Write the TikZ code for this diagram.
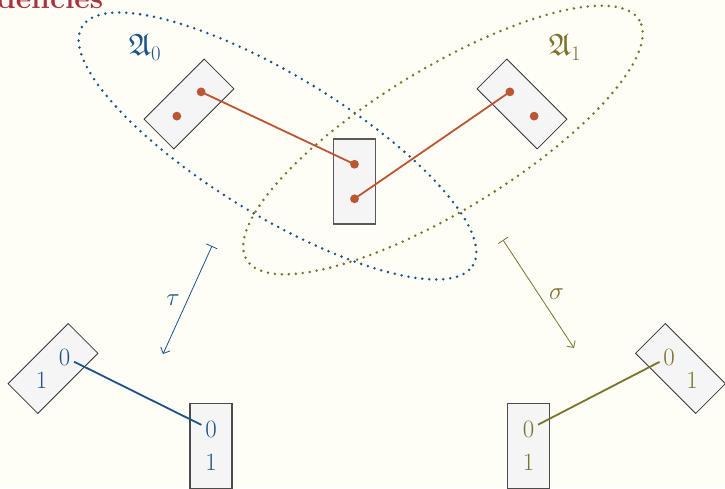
\documentclass[tikz,border=0pt]{standalone}
\usepackage{amssymb}
\usepackage{tikz}
\usetikzlibrary{arrows.meta,calc}
\definecolor{paper}{RGB}{254,254,247}
\definecolor{navy}{RGB}{28,84,138}
\definecolor{olivy}{RGB}{122,116,42}
\definecolor{ember}{RGB}{186,86,50}
\definecolor{titlered}{RGB}{168,50,62}

\begin{document}
\begin{tikzpicture}[x=1pt,y=-1pt,
  cell/.style={draw=black!80,fill=black!4,line width=0.8pt,minimum width=42pt,minimum height=85pt,inner sep=0pt},
  digit/.style={circle,inner sep=0pt,minimum size=21pt,font=\fontsize{25}{28}\selectfont},
  region/.style={line width=2.8pt,line cap=round,dash pattern=on 0pt off 7pt},
  tie/.style={line width=1.8pt},
  maps/.style={line width=0.8pt,{Bar[width=12pt]}-{Straight Barb[length=5pt,width=10pt]}},
  lbl/.style={font=\fontsize{31}{34}\selectfont}]
\useasboundingbox (0,0) rectangle (725,488);
\fill[paper] (0,0) rectangle (725,488);
\node[anchor=base west,text=titlered,font=\fontsize{30}{34}\selectfont\bfseries,inner sep=0pt] (title) at (-3,8.5) {deficles};
% the two regions
\draw[region,navy,rotate around={-31.4:(277.5,146)}] (277.5,146) ellipse [x radius=229pt,y radius=70pt];
\draw[region,olivy,rotate around={31.4:(443,140)}] (443,140) ellipse [x radius=230pt,y radius=71pt];
\node[lbl,text=navy] (A0) at (145,47) {$\mathfrak{A}_0$};
\node[lbl,text=olivy] (A1) at (565,47) {$\mathfrak{A}_1$};
% top row
\node[cell,rotate=-45] (p) at (189,104) {};
\node[cell,draw=black!65,line width=1.3pt] (m) at (354.5,181.5) {};
\node[cell,rotate=45] (q) at (522,104) {};
\coordinate (p0) at ($(p.center)!.4!(p.north)$);
\coordinate (p1) at ($(p.center)!.4!(p.south)$);
\coordinate (m0) at ($(m.center)!.4!(m.north)$);
\coordinate (m1) at ($(m.center)!.4!(m.south)$);
\coordinate (q0) at ($(q.center)!.4!(q.north)$);
\coordinate (q1) at ($(q.center)!.4!(q.south)$);
\draw[tie,ember] (p0) -- (m0);
\draw[tie,ember] (m1) -- (q0);
\foreach \d in {p0,p1,m0,m1,q0,q1} \fill[ember] (\d) circle (4.4pt);
% the two maps
\coordinate (tauS) at (212,246);
\coordinate (tauE) at (163,354);
\coordinate (sigS) at (503,240);
\coordinate (sigE) at (574,348);
\draw[maps,navy] (tauS) -- node[lbl,left=4pt] {$\tau$} (tauE);
\draw[maps,olivy] (sigS) -- node[lbl,right=7pt] {$\sigma$} (sigE);
% bottom row
\node[cell,rotate=-45] (l) at (53,368.5) {};
\node[cell,draw=black!70,line width=1.1pt] (lm) at (211,446) {};
\node[cell,draw=black!70,line width=1.1pt] (rm) at (528.5,446) {};
\node[cell,rotate=45] (r) at (680.5,368.5) {};
\node[digit,text=navy] (l0) at ($(l.center)!.38!(l.north)$) {$0$};
\node[digit,text=navy] (l1) at ($(l.center)!.38!(l.south)$) {$1$};
\node[digit,text=navy] (lm0) at ($(lm.center)!.38!(lm.north)$) {$0$};
\node[digit,text=navy] (lm1) at ($(lm.center)!.38!(lm.south)$) {$1$};
\node[digit,text=olivy] (rm0) at ($(rm.center)!.38!(rm.north)$) {$0$};
\node[digit,text=olivy] (rm1) at ($(rm.center)!.38!(rm.south)$) {$1$};
\node[digit,text=olivy] (r0) at ($(r.center)!.38!(r.north)$) {$0$};
\node[digit,text=olivy] (r1) at ($(r.center)!.38!(r.south)$) {$1$};
\draw[tie,navy] (l0) -- (lm0);
\draw[tie,olivy] (rm0) -- (r0);
\end{tikzpicture}
\end{document}
